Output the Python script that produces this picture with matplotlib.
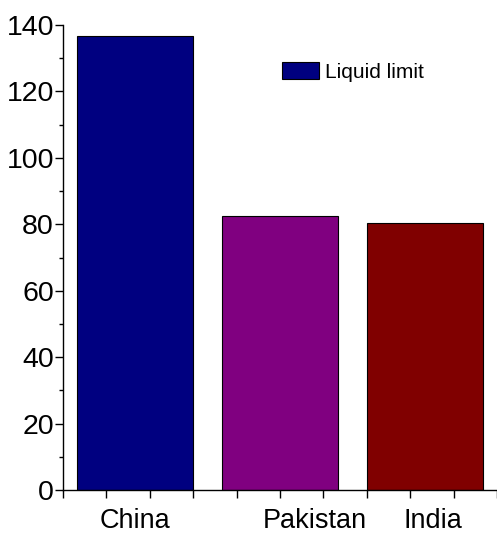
import numpy as np
import matplotlib.pyplot as plt
from matplotlib.ticker import MultipleLocator

plt.rcParams['font.family'] = ['Liberation Sans', 'DejaVu Sans']

countries = ['China', 'Pakistan', 'India']
liquid_limit = [136.8, 82.4, 80.5]
bar_colors = ['#000080', '#800080', '#800000']

fig = plt.figure(figsize=(4.97, 5.38), dpi=100)
ax = fig.add_axes([63 / 497, 1 - 490 / 538, 434 / 497, 465 / 538])

x = np.arange(1, len(countries) + 1)
bars = ax.bar(x, liquid_limit, width=0.8, color=bar_colors,
              edgecolor='black', linewidth=0.8, label='Liquid limit')

ax.set_xlim(0.5, 3.5)
ax.set_ylim(0, 140)

for s in ['top', 'right']:
    ax.spines[s].set_visible(False)
for s in ['left', 'bottom']:
    ax.spines[s].set_linewidth(1.0)

# y axis: labelled major ticks every 20, minor every 10
ax.yaxis.set_major_locator(MultipleLocator(20))
ax.yaxis.set_minor_locator(MultipleLocator(10))
ax.tick_params(axis='y', which='major', length=6, width=1.0, pad=0.5,
               labelsize=20.5, direction='out')
ax.tick_params(axis='y', which='minor', length=3, width=1.0, direction='out')

# x axis: plain ticks, category names placed under the bars
ax.set_xticks(np.arange(0.5, 3.51, 0.3))
ax.set_xticklabels([])
ax.tick_params(axis='x', which='major', length=6, width=1.0, direction='out')
label_shift = [-0.005, 0.24, 0.056]
ax.set_xticks(x + np.array(label_shift), minor=True)
ax.set_xticklabels(countries, minor=True)
ax.tick_params(axis='x', which='minor', length=0, pad=13, labelsize=19.5)

ax.legend(loc='upper left', bbox_to_anchor=(0.505, 0.92), frameon=False,
          fontsize=15, handlelength=1.75, handleheight=0.9,
          handletextpad=0.3, borderpad=0, borderaxespad=0)

fig.savefig('out.png', dpi=100)
